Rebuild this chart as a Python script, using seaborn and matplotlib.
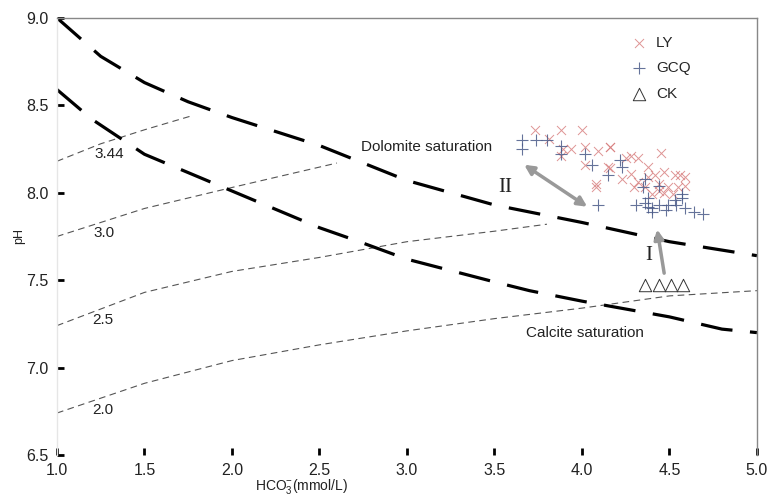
import numpy as np
import pandas as pd
import matplotlib
matplotlib.use("Agg")
import matplotlib.pyplot as plt
import seaborn as sns

# Saturation curves (thick dashed)
dol_x = [1.0, 1.25, 1.5, 1.75, 2.0, 2.5, 2.75, 3.0, 3.5, 4.0, 4.5, 5.0]
dol_y = [9.0, 8.78, 8.63, 8.52, 8.43, 8.27, 8.17, 8.07, 7.93, 7.83, 7.72, 7.64]
cal_x = [1.0, 1.2, 1.5, 2.0, 2.5, 2.7, 3.0, 3.5, 3.7, 4.0, 4.5, 4.8, 5.0]
cal_y = [8.59, 8.42, 8.22, 8.01, 7.80, 7.73, 7.62, 7.49, 7.44, 7.38, 7.29, 7.22, 7.20]

# Thin dashed isolines
iso_labels = ["3.44", "3.0", "2.5", "2.0"]
iso_x = [
    [1.0, 1.25, 1.5, 1.77],
    [1.0, 1.5, 2.0, 2.3, 2.6],
    [1.0, 1.5, 2.0, 2.5, 3.0, 3.5, 3.8],
    [1.0, 1.5, 2.0, 2.5, 3.0, 3.5, 4.0, 4.5, 5.0],
]
iso_y = [
    [8.18, 8.28, 8.36, 8.44],
    [7.75, 7.91, 8.03, 8.10, 8.17],
    [7.24, 7.43, 7.55, 7.63, 7.72, 7.78, 7.82],
    [6.74, 6.91, 7.04, 7.13, 7.21, 7.28, 7.34, 7.41, 7.44],
]
iso_label_pos = [(1.3, 8.22), (1.27, 7.77), (1.26, 7.27), (1.26, 6.76)]

# Samples
ly_x = [3.73, 3.81, 3.88, 4.00, 3.89, 3.94, 4.02, 4.09, 4.16, 3.88, 4.02, 4.15,
        4.25, 4.28, 4.32, 4.45, 4.38, 4.28, 4.23, 4.08, 4.08, 4.32, 4.38, 4.42,
        4.47, 4.53, 4.59, 4.36, 4.44, 4.49, 4.55, 4.44, 4.47, 4.59, 4.52, 4.40,
        4.30, 4.16, 4.16, 4.56]
ly_y = [8.36, 8.31, 8.36, 8.36, 8.25, 8.25, 8.26, 8.24, 8.26, 8.21, 8.16, 8.15,
        8.20, 8.21, 8.20, 8.23, 8.15, 8.11, 8.08, 8.05, 8.03, 8.06, 8.09, 8.10,
        8.12, 8.10, 8.09, 8.03, 8.05, 8.03, 8.03, 8.01, 8.00, 8.04, 7.99, 7.99,
        8.03, 8.26, 8.14, 8.10]
gcq_x = [3.66, 3.66, 3.74, 3.80, 3.88, 3.88, 4.02, 4.06, 4.15, 4.22, 4.23, 4.09,
         4.31, 4.36, 4.38, 4.40, 4.44, 4.49, 4.54, 4.59, 4.64, 4.69, 4.35, 4.36,
         4.44, 4.57, 4.57, 4.38, 4.40, 4.48, 4.53]
gcq_y = [8.30, 8.25, 8.30, 8.30, 8.27, 8.22, 8.22, 8.16, 8.10, 8.19, 8.15, 7.93,
         7.93, 7.94, 7.92, 7.91, 7.93, 7.93, 7.93, 7.91, 7.89, 7.88, 8.03, 8.08,
         8.04, 7.99, 7.97, 7.97, 7.89, 7.90, 7.96]
ck_x = [4.36, 4.44, 4.51, 4.58]
ck_y = [7.47, 7.47, 7.47, 7.47]

sns.set_theme(style="white")
plt.rcParams["font.family"] = ["Liberation Sans", "DejaVu Sans"]
plt.rcParams["mathtext.fontset"] = "custom"
plt.rcParams["mathtext.rm"] = "Liberation Sans"
plt.rcParams["mathtext.it"] = "Liberation Sans"

fig = plt.figure(figsize=(7.7, 4.97), dpi=100)
ax = fig.add_axes([0.074, 0.0845, 0.909, 0.8795])

# thin isolines
for xs, ys, lab, (lx, ly) in zip(iso_x, iso_y, iso_labels, iso_label_pos):
    sns.lineplot(x=xs, y=ys, ax=ax, color="#555555", lw=0.8, sort=False,
                 estimator=None, linestyle=(0, (6, 4)))
    ax.text(lx, ly, lab, fontsize=11, color="#222222", ha="center", va="center")

# saturation curves
for xs, ys in [(dol_x, dol_y), (cal_x, cal_y)]:
    sns.lineplot(x=xs, y=ys, ax=ax, color="black", lw=2.3, sort=False,
                 estimator=None, linestyle=(0, (10, 5.5)))

ax.text(3.11, 8.26, "Dolomite saturation", fontsize=11, color="#222222",
        ha="center", va="center")
ax.text(4.02, 7.20, "Calcite saturation", fontsize=11, color="#222222",
        ha="center", va="center")

# samples
sns.scatterplot(x=ly_x, y=ly_y, ax=ax, marker="x", s=42, color="#d67a7a",
                linewidth=0.7, alpha=0.8, label="LY")
sns.scatterplot(x=gcq_x, y=gcq_y, ax=ax, marker="+", s=70, color="#4a5a88",
                linewidth=0.8, alpha=0.85, label="GCQ")
sns.scatterplot(x=ck_x, y=ck_y, ax=ax, marker="^", s=80, facecolor="white",
                edgecolor="#333333", linewidth=0.7, label="CK")

# arrows and zones
arrow = dict(arrowstyle="<|-|>", color="#999999", lw=2.5, mutation_scale=14,
             shrinkA=0, shrinkB=0)
ax.annotate("", xy=(3.67, 8.16), xytext=(4.03, 7.92), arrowprops=arrow)
ax.annotate("", xy=(4.43, 7.79), xytext=(4.47, 7.54),
            arrowprops=dict(arrowstyle="-|>", color="#999999", lw=2.5,
                            mutation_scale=14, shrinkA=0, shrinkB=0))
ax.text(3.56, 8.03, "II", fontsize=15, family="Liberation Serif",
        ha="center", va="center", color="#222222")
ax.text(4.38, 7.64, "I", fontsize=15, family="Liberation Serif",
        ha="center", va="center", color="#222222")

ax.set_xlim(1.0, 5.0)
ax.set_ylim(6.5, 9.0)
ax.set_xticks(np.arange(1.0, 5.01, 0.5))
ax.set_yticks(np.arange(6.5, 9.01, 0.5))
ax.set_xticklabels([f"{v:.1f}" for v in np.arange(1.0, 5.01, 0.5)])
ax.set_yticklabels([f"{v:.1f}" for v in np.arange(6.5, 9.01, 0.5)])
ax.tick_params(direction="in", length=5, width=2, color="black",
               labelsize=11.5, labelcolor="#222222", pad=6,
               bottom=True, left=True)
ax.tick_params(axis="x", pad=6)

ax.spines["top"].set_color("#888888")
ax.spines["right"].set_color("#888888")
ax.spines["left"].set_color("#e6e6e6")
ax.spines["bottom"].set_visible(False)
for s in ax.spines.values():
    s.set_linewidth(1.0)

ax.set_xlabel(r"HCO$_3^{-}$(mmol/L)", fontsize=10, color="#222222", labelpad=0)
ax.xaxis.set_label_coords(0.35, -0.05)
ax.set_ylabel("pH", fontsize=9, color="#222222")
ax.yaxis.set_label_coords(-0.045, 0.5)

leg = ax.legend(loc="upper right", bbox_to_anchor=(0.925, 0.99), frameon=False,
                fontsize=11, handletextpad=0.5, labelspacing=0.75,
                handlelength=1.2)

fig.savefig("out.png", dpi=100)
